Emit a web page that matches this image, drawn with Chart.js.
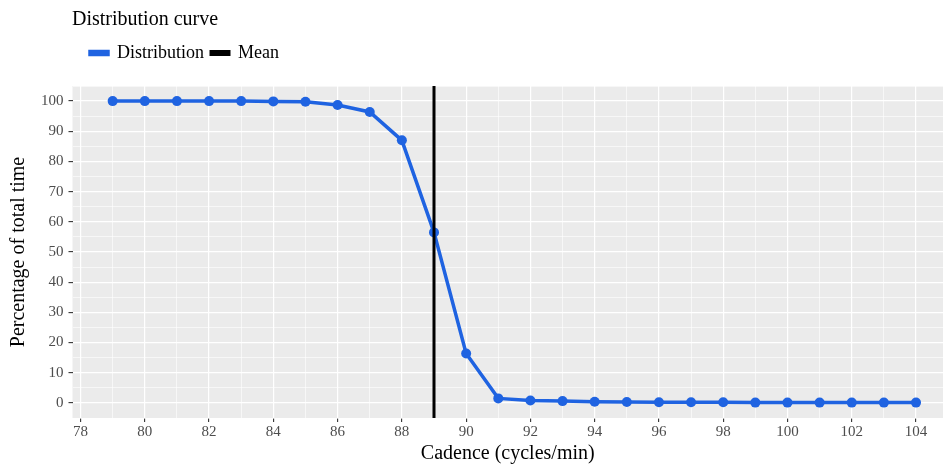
<!DOCTYPE html>
<html>
<head>
<meta charset="utf-8">
<script src="https://cdn.jsdelivr.net/npm/chart.js@4"></script>
<style>
  body { margin: 0; background: #fff; }
</style>
</head>
<body>
<canvas id="myChart" width="948" height="468"></canvas>
<script>
const cadence = [79, 80, 81, 82, 83, 84, 85, 86, 87, 88, 89, 90, 91, 92, 93, 94, 95, 96, 97, 98, 99, 100, 101, 102, 103, 104]
const percentTime = [100, 100, 100, 100, 100, 99.9, 99.8, 98.7, 96.4, 87, 56.5, 16.4, 1.5, 0.8, 0.6, 0.4, 0.3, 0.2, 0.2, 0.2, 0.1, 0.1, 0.1, 0.1, 0.1, 0.1]
const meanCadence = 89
const yRange = [-5, 105]
const xRange = [77.75, 104.84]

const FONT = "'Liberation Serif', 'Times New Roman', serif"
const BLUE = '#1f63e1'

// grey panel behind the grid, shift title / legend like ggplot
const panelBg = {
    id: 'panelBg',
    afterInit(chart) {
        // extra room between legend and panel
        const fit = chart.legend.fit
        chart.legend.fit = function () {
            fit.call(this)
            this.height += 14
        }
    },
    beforeDraw(chart) {
        const { ctx, chartArea: a } = chart
        ctx.save()
        ctx.fillStyle = '#ebebeb'
        ctx.fillRect(a.left, a.top, a.right - a.left, a.bottom - a.top)
        ctx.restore()
    },
    afterLayout(chart) {
        chart.titleBlock.left = 72
        chart.legend.left = 83
    }
}

const data = {
    datasets: [{
        label: 'Distribution',
        data: cadence.map((c, i) => ({ x: c, y: percentTime[i] })),
        borderColor: BLUE,
        backgroundColor: BLUE,
        borderWidth: 3.5,
        pointRadius: 5,
        pointBorderWidth: 0,
        pointHoverRadius: 5,
        order: 1
    }, {
        label: 'Mean',
        data: [{ x: meanCadence, y: yRange[0] }, { x: meanCadence, y: yRange[1] }],
        borderColor: '#000',
        backgroundColor: '#000',
        borderWidth: 3,
        pointRadius: 0,
        order: 0
    }]
}

const gridOpts = (isMinor) => ({
    color: '#fff',
    lineWidth: (c) => isMinor(c.tick.value) ? 0.6 : 1.2,
    tickColor: (c) => isMinor(c.tick.value) ? 'rgba(0,0,0,0)' : '#333',
    tickWidth: 1.1,
    tickLength: 4
})

const config = {
    type: 'line',
    data,
    options: {
        responsive: false,
        devicePixelRatio: 1,
        animation: false,
        layout: { padding: { left: 7, right: 0, top: 8, bottom: 2 } },
        scales: {
            x: {
                type: 'linear',
                min: xRange[0],
                max: xRange[1],
                border: { display: false },
                grid: gridOpts(v => Math.abs(v % 2) === 1),
                ticks: {
                    stepSize: 1,
                    includeBounds: false,
                    autoSkip: false,
                    maxRotation: 0,
                    padding: 1,
                    color: '#4d4d4d',
                    font: { family: FONT, size: 15 },
                    callback: (v) => v % 2 === 0 ? v : ''
                },
                title: {
                    display: true,
                    text: 'Cadence (cycles/min)',
                    color: '#000',
                    font: { family: FONT, size: 20 },
                    padding: { top: 0, bottom: 0 }
                }
            },
            y: {
                min: yRange[0],
                max: yRange[1],
                border: { display: false },
                grid: gridOpts(v => Math.abs(v % 10) === 5),
                ticks: {
                    stepSize: 5,
                    includeBounds: false,
                    autoSkip: false,
                    padding: 5,
                    color: '#4d4d4d',
                    font: { family: FONT, size: 15 },
                    callback: (v) => v % 10 === 0 ? v : ''
                },
                title: {
                    display: true,
                    text: 'Percentage of total time',
                    color: '#000',
                    font: { family: FONT, size: 20 },
                    padding: { top: 0, bottom: 5 }
                }
            }
        },
        plugins: {
            title: {
                display: true,
                text: 'Distribution curve',
                align: 'start',
                color: '#000',
                font: { family: FONT, size: 20, weight: 'normal' },
                padding: { top: 0, bottom: 5 }
            },
            legend: {
                display: true,
                align: 'start',
                labels: {
                    color: '#000',
                    font: { family: FONT, size: 18 },
                    boxWidth: 18,
                    boxHeight: 3,
                    padding: 7,
                    sort: (a, b) => a.datasetIndex - b.datasetIndex
                }
            },
            tooltip: { enabled: false }
        }
    },
    plugins: [panelBg]
}

const myChart = new Chart(document.getElementById('myChart'), config)
</script>
</body>
</html>
